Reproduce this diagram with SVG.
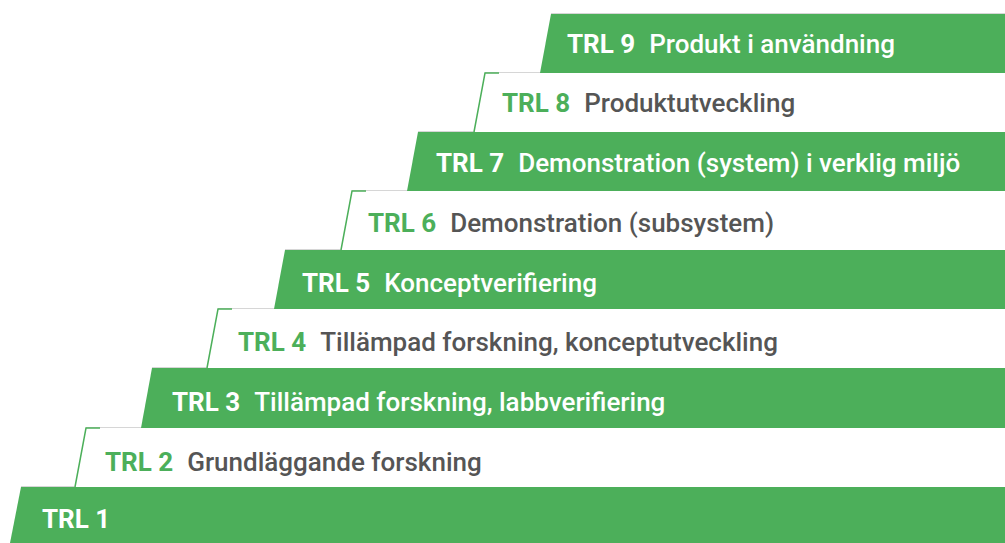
<svg xmlns="http://www.w3.org/2000/svg" width="1005" height="543" viewBox="0 0 1005 543">
<style>
.g{fill:#4caf5a}
.w{fill:#ffffff}
.edge{fill:none;stroke:#4caf5a;stroke-width:1.5}
.top{stroke:#d6d6d6;stroke-width:1.2}
text{font-family:Roboto,"Liberation Sans",sans-serif;font-size:26px}
.lg{fill:#ffffff;font-weight:700}
.dg{fill:#ffffff;font-weight:500}
.lw{fill:#4caf5a;font-weight:700}
.dw{fill:#555555;font-weight:500}
</style>
<rect width="1005" height="543" fill="#ffffff"/>
<g id="trl1">
<polygon class="g" points="21,487 1005,487 1005,543 10,543"/>
<line class="top" x1="21" y1="486.5" x2="1005" y2="486.5"/>
<text x="42" y="528"><tspan class="lg">TRL 1</tspan></text>
</g>
<g id="trl2">
<polygon class="w" points="86,428 1005,428 1005,487 75,487"/>
<line class="top" x1="86" y1="427.5" x2="1005" y2="427.5"/>
<polyline class="edge" points="75,487 86,428 100,428"/>
<text x="105" y="471"><tspan class="lw">TRL 2</tspan><tspan class="dw" dx="14">Grundläggande forskning</tspan></text>
</g>
<g id="trl3">
<polygon class="g" points="152,368 1005,368 1005,428 141,428"/>
<line class="top" x1="152" y1="367.5" x2="1005" y2="367.5"/>
<text x="172" y="411"><tspan class="lg">TRL 3</tspan><tspan class="dg" dx="14">Tillämpad forskning, labbverifiering</tspan></text>
</g>
<g id="trl4">
<polygon class="w" points="218,309 1005,309 1005,368 207,368"/>
<line class="top" x1="218" y1="308.5" x2="1005" y2="308.5"/>
<polyline class="edge" points="207,368 218,309 232,309"/>
<text x="238" y="351"><tspan class="lw">TRL 4</tspan><tspan class="dw" dx="14">Tillämpad forskning, konceptutveckling</tspan></text>
</g>
<g id="trl5">
<polygon class="g" points="285,250 1005,250 1005,309 274,309"/>
<line class="top" x1="285" y1="249.5" x2="1005" y2="249.5"/>
<text x="302" y="292"><tspan class="lg">TRL 5</tspan><tspan class="dg" dx="14">Konceptverifiering</tspan></text>
</g>
<g id="trl6">
<polygon class="w" points="352,191 1005,191 1005,250 341,250"/>
<line class="top" x1="352" y1="190.5" x2="1005" y2="190.5"/>
<polyline class="edge" points="341,250 352,191 366,191"/>
<text x="368" y="232"><tspan class="lw">TRL 6</tspan><tspan class="dw" dx="14">Demonstration (subsystem)</tspan></text>
</g>
<g id="trl7">
<polygon class="g" points="418,132 1005,132 1005,191 407,191"/>
<line class="top" x1="418" y1="131.5" x2="1005" y2="131.5"/>
<text x="436" y="172"><tspan class="lg">TRL 7</tspan><tspan class="dg" dx="14">Demonstration (system) i verklig miljö</tspan></text>
</g>
<g id="trl8">
<polygon class="w" points="485,73 1005,73 1005,132 474,132"/>
<line class="top" x1="485" y1="72.5" x2="1005" y2="72.5"/>
<polyline class="edge" points="474,132 485,73 499,73"/>
<text x="502" y="112"><tspan class="lw">TRL 8</tspan><tspan class="dw" dx="14">Produktutveckling</tspan></text>
</g>
<g id="trl9">
<polygon class="g" points="551,14 1005,14 1005,73 540,73"/>
<line class="top" x1="551" y1="13.5" x2="1005" y2="13.5"/>
<text x="567" y="53"><tspan class="lg">TRL 9</tspan><tspan class="dg" dx="14">Produkt i användning</tspan></text>
</g>
<g id="connectors"></g>
</svg>
